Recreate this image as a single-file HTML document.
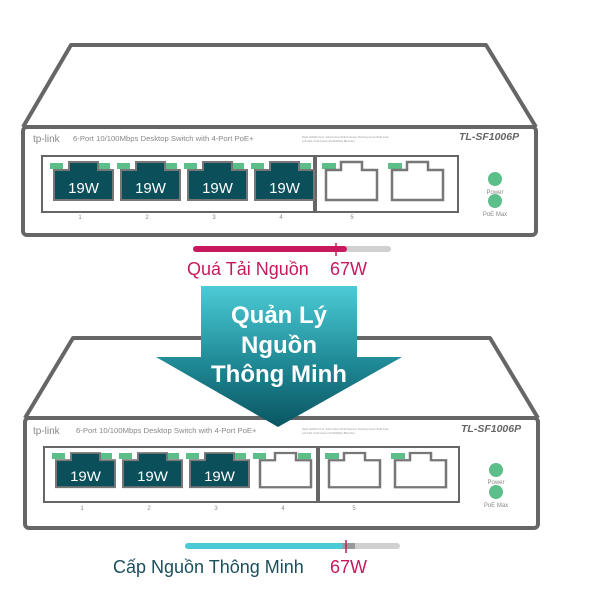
<!DOCTYPE html>
<html><head><meta charset="utf-8"><style>
body{margin:0;background:#fff}
svg{display:block}
text{font-family:"Liberation Sans",sans-serif}
</style></head><body>
<svg width="600" height="600" viewBox="0 0 600 600" xmlns="http://www.w3.org/2000/svg">
<defs>
<linearGradient id="ag" x1="0" y1="0" x2="0" y2="1">
<stop offset="0" stop-color="#4ccbd6"/><stop offset="0.55" stop-color="#1f8995"/><stop offset="1" stop-color="#0a5562"/>
</linearGradient>
<g id="dport">
<path d="M0,8 H15 V0 H44 V8 H59 V38 H0 Z" fill="#0b4f5b" stroke="#777" stroke-width="2"/>
<text x="29.5" y="31" font-size="15" fill="#fff" text-anchor="middle">19W</text>
</g>
<g id="eport">
<path d="M0,8 H15 V0 H36 V8 H51 V38 H0 Z" fill="#fff" stroke="#777" stroke-width="2.5"/>
</g>
</defs>

<!-- TOP SWITCH -->
<path d="M23,127 L71,45 H486 L536,127" fill="#fff" stroke="#666" stroke-width="4" stroke-linejoin="round"/>
<rect x="23" y="127" width="513" height="108" rx="4" fill="#fff" stroke="#666" stroke-width="4"/>
<text x="33" y="142" font-size="10" fill="#888">tp-link</text>
<text x="73" y="141" font-size="7.7" fill="#888">6-Port 10/100Mbps Desktop Switch with 4-Port PoE+</text>
<text x="302" y="138" font-size="2.6" fill="#999">Right LED(Port1-4):  Solid Green=PoE Powered, Flashing Green=PoE Fault</text>
<text x="302" y="142" font-size="2.6" fill="#999">Left LED:  Solid Green=10/100Mbps  Blink=Act</text>
<text x="459" y="140" font-size="10.5" font-weight="bold" font-style="italic" fill="#666">TL-SF1006P</text>
<rect x="42" y="156" width="272" height="56" fill="none" stroke="#666" stroke-width="2"/>
<rect x="316" y="156" width="142" height="56" fill="none" stroke="#666" stroke-width="2"/>
<g fill="#5cbf8a">
<rect x="50" y="163" width="13" height="6"/><rect x="97" y="163" width="13" height="6"/>
<rect x="117" y="163" width="13" height="6"/><rect x="164" y="163" width="13" height="6"/>
<rect x="184" y="163" width="13" height="6"/><rect x="231" y="163" width="13" height="6"/>
<rect x="251" y="163" width="13" height="6"/><rect x="298" y="163" width="13" height="6"/>
<rect x="322" y="163" width="14" height="6"/><rect x="388" y="163" width="14" height="6"/>
</g>
<use href="#dport" x="54" y="162"/><use href="#dport" x="121" y="162"/>
<use href="#dport" x="188" y="162"/><use href="#dport" x="255" y="162"/>
<use href="#eport" x="326" y="162"/><use href="#eport" x="392" y="162"/>
<g font-size="6" fill="#888" text-anchor="middle">
<text x="80" y="219">1</text><text x="147" y="219">2</text><text x="214" y="219">3</text><text x="281" y="219">4</text><text x="352" y="219">5</text>
<text x="495" y="194">Power</text><text x="495" y="216">PoE Max</text>
</g>
<circle cx="495" cy="179" r="7" fill="#5cbf8a"/><circle cx="495" cy="201" r="7" fill="#5cbf8a"/>
<line x1="196" y1="249" x2="388" y2="249" stroke="#d0d0d0" stroke-width="6" stroke-linecap="round"/>
<line x1="196" y1="249" x2="344" y2="249" stroke="#c8195e" stroke-width="6" stroke-linecap="round"/>
<line x1="336" y1="243" x2="336" y2="256" stroke="#c8195e" stroke-width="1.5"/>
<text x="187" y="275" font-size="18" fill="#c8195e">Quá Tải Nguồn</text>
<text x="330" y="275" font-size="18" fill="#c8195e">67W</text>

<!-- BOTTOM SWITCH -->
<path d="M25,418 L73,338 H490 L538,418" fill="#fff" stroke="#666" stroke-width="4" stroke-linejoin="round"/>
<rect x="25" y="418" width="513" height="110" rx="4" fill="#fff" stroke="#666" stroke-width="4"/>
<text x="33" y="434" font-size="10" fill="#888">tp-link</text>
<text x="76" y="433" font-size="7.7" fill="#888">6-Port 10/100Mbps Desktop Switch with 4-Port PoE+</text>
<text x="302" y="430" font-size="2.6" fill="#999">Right LED(Port1-4):  Solid Green=PoE Powered, Flashing Green=PoE Fault</text>
<text x="302" y="434" font-size="2.6" fill="#999">Left LED:  Solid Green=10/100Mbps  Blink=Act</text>
<text x="461" y="432" font-size="10.5" font-weight="bold" font-style="italic" fill="#666">TL-SF1006P</text>
<rect x="44" y="447" width="273" height="55" fill="none" stroke="#666" stroke-width="2"/>
<rect x="319" y="447" width="140" height="55" fill="none" stroke="#666" stroke-width="2"/>
<g fill="#5cbf8a">
<rect x="52" y="453" width="13" height="6"/><rect x="99" y="453" width="13" height="6"/>
<rect x="119" y="453" width="13" height="6"/><rect x="166" y="453" width="13" height="6"/>
<rect x="186" y="453" width="13" height="6"/><rect x="233" y="453" width="13" height="6"/>
<rect x="253" y="453" width="13" height="6"/><rect x="298" y="453" width="13" height="6"/>
<rect x="325" y="453" width="14" height="6"/><rect x="391" y="453" width="14" height="6"/>
</g>
<g transform="translate(0,-8)">
<g transform="translate(56,461) scale(1,0.9)"><use href="#dport"/></g>
<g transform="translate(123,461) scale(1,0.9)"><use href="#dport"/></g>
<g transform="translate(190,461) scale(1,0.9)"><use href="#dport"/></g>
<g transform="translate(260,461) scale(1,0.9)"><use href="#eport"/></g>
<g transform="translate(329,461) scale(1,0.9)"><use href="#eport"/></g>
<g transform="translate(395,461) scale(1,0.9)"><use href="#eport"/></g>
</g>
<g font-size="6" fill="#888" text-anchor="middle">
<text x="82" y="510">1</text><text x="149" y="510">2</text><text x="216" y="510">3</text><text x="283" y="510">4</text><text x="354" y="510">5</text>
<text x="496" y="484">Power</text><text x="496" y="507">PoE Max</text>
</g>
<circle cx="496" cy="470" r="7" fill="#5cbf8a"/><circle cx="496" cy="492" r="7" fill="#5cbf8a"/>
<line x1="188" y1="546" x2="397" y2="546" stroke="#d0d0d0" stroke-width="6" stroke-linecap="round"/>
<line x1="340" y1="546" x2="355" y2="546" stroke="#999" stroke-width="6"/>
<line x1="188" y1="546" x2="340" y2="546" stroke="#4ccbd6" stroke-width="6" stroke-linecap="round"/>
<line x1="346" y1="540" x2="346" y2="553" stroke="#c8195e" stroke-width="1.5"/>
<text x="113" y="573" font-size="18" fill="#1a4f5c">Cấp Nguồn Thông Minh</text>
<text x="330" y="573" font-size="18" fill="#c8195e">67W</text>

<!-- ARROW -->
<path d="M201,286 H357 V357 H402 L278,427 L156,357 H201 Z" fill="url(#ag)" stroke-linejoin="round"/>
<g font-size="24" font-weight="bold" fill="#fff" text-anchor="middle">
<text x="279" y="323">Quản Lý</text>
<text x="279" y="353">Nguồn</text>
<text x="279" y="382">Thông Minh</text>
</g>
</svg>
</body></html>
